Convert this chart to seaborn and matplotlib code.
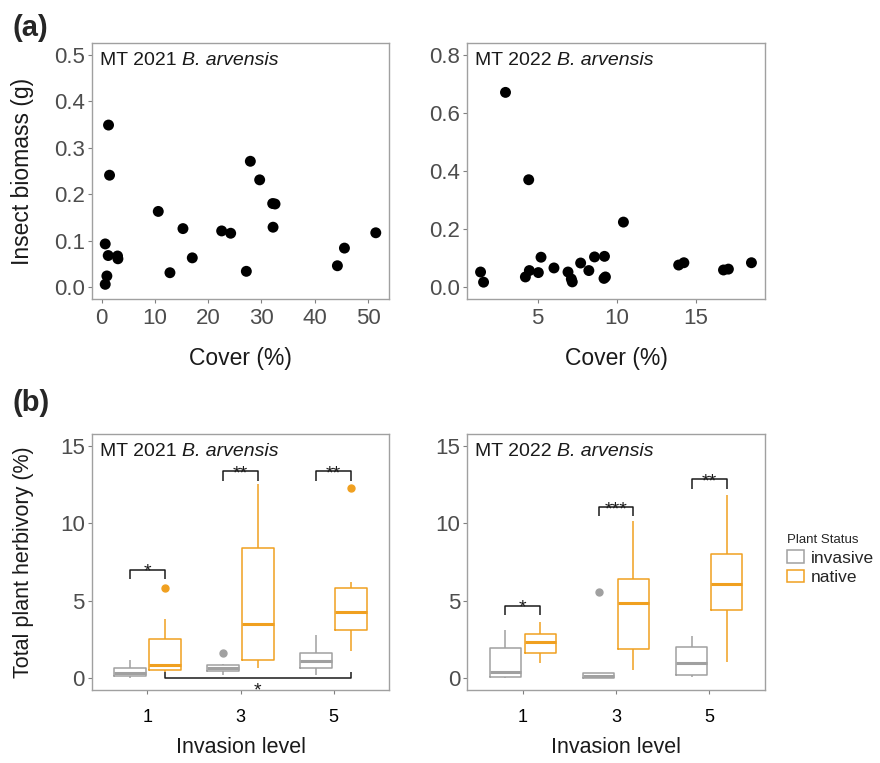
import pandas as pd
import seaborn as sns
import matplotlib.pyplot as plt

# ---- (a) insect biomass vs cover ----
cover_2021 = [1.31, 1.50, 0.69, 1.25, 3.00, 3.07, 1.00, 0.69, 10.64, 12.83, 15.27, 17.02,
              22.53, 24.22, 27.16, 27.91, 29.66, 32.10, 32.54, 32.17, 44.24, 45.56, 51.44]
biomass_2021 = [0.349, 0.241, 0.093, 0.068, 0.067, 0.061, 0.024, 0.006, 0.163, 0.031, 0.126, 0.063,
                0.121, 0.116, 0.034, 0.271, 0.231, 0.180, 0.179, 0.129, 0.046, 0.084, 0.117]

cover_2022 = [2.96, 4.43, 10.43, 1.38, 1.57, 4.22, 4.47, 5.04, 5.21, 6.03, 6.92, 7.13, 7.19,
              7.72, 8.24, 8.60, 9.23, 9.29, 9.20, 13.93, 14.26, 16.77, 17.08, 18.54]
biomass_2022 = [0.671, 0.370, 0.224, 0.052, 0.017, 0.035, 0.057, 0.050, 0.103, 0.066, 0.052, 0.028, 0.018,
                0.083, 0.057, 0.104, 0.106, 0.035, 0.030, 0.076, 0.084, 0.059, 0.062, 0.084]

# ---- (b) herbivory by invasion level ----
levels = ['1', '3', '5']
statuses = ['invasive', 'native']

h21_1_inv = [0.04, 0.10, 0.15, 0.25, 0.36, 0.50, 0.69, 0.90, 1.18]
h21_1_nat = [0.40, 0.50, 0.56, 0.70, 0.86, 1.60, 2.55, 3.85, 5.80]
h21_3_inv = [0.24, 0.35, 0.47, 0.60, 0.69, 0.78, 0.84, 0.95, 1.65]
h21_3_nat = [0.69, 0.90, 1.16, 2.50, 3.51, 6.00, 8.39, 10.50, 12.53]
h21_5_inv = [0.19, 0.45, 0.69, 0.90, 1.11, 1.40, 1.65, 2.20, 2.81]
h21_5_nat = [1.76, 2.50, 3.10, 3.80, 4.30, 5.20, 5.85, 6.23, 12.27]

h22_1_inv = [0.00, 0.05, 0.09, 0.20, 0.41, 1.20, 1.99, 2.60, 3.15]
h22_1_nat = [0.96, 1.30, 1.61, 2.00, 2.33, 2.60, 2.89, 3.30, 3.64]
h22_3_inv = [0.00, 0.00, 0.00, 0.08, 0.15, 0.25, 0.36, 0.36, 5.55]
h22_3_nat = [0.51, 1.20, 1.91, 3.50, 4.84, 5.60, 6.42, 8.50, 10.17]
h22_5_inv = [0.10, 0.15, 0.21, 0.60, 0.96, 1.50, 2.03, 2.40, 2.76]
h22_5_nat = [1.03, 3.00, 4.39, 5.30, 6.10, 7.00, 8.05, 10.00, 11.84]

sig21_labels = ['*', '**', '**']
sig21_y = [7.0, 13.35, 13.35]
sig22_labels = ['*', '***', '**']
sig22_y = [4.67, 11.05, 12.85]
sig21_across = '*'

pal = {'invasive': '#A0A0A0', 'native': '#F0A020'}


def herb_frame(groups):
    rows = []
    for (lev, st), vals in groups.items():
        for v in vals:
            rows.append({'level': lev, 'status': st, 'herb': v})
    return pd.DataFrame(rows)


df21 = herb_frame({('1', 'invasive'): h21_1_inv, ('1', 'native'): h21_1_nat,
                   ('3', 'invasive'): h21_3_inv, ('3', 'native'): h21_3_nat,
                   ('5', 'invasive'): h21_5_inv, ('5', 'native'): h21_5_nat})
df22 = herb_frame({('1', 'invasive'): h22_1_inv, ('1', 'native'): h22_1_nat,
                   ('3', 'invasive'): h22_3_inv, ('3', 'native'): h22_3_nat,
                   ('5', 'invasive'): h22_5_inv, ('5', 'native'): h22_5_nat})

sns.set_theme(style='white')
plt.rcParams['font.family'] = ['Liberation Sans', 'DejaVu Sans']

fig = plt.figure(figsize=(8.8, 7.63), dpi=100)
ax_tl = fig.add_axes([0.1042, 0.6085, 0.3382, 0.3347])
ax_tr = fig.add_axes([0.5307, 0.6085, 0.3386, 0.3347])
ax_bl = fig.add_axes([0.1042, 0.0957, 0.3382, 0.3351])
ax_br = fig.add_axes([0.5307, 0.0957, 0.3386, 0.3351])


def style_axis(ax, yr, xcolor):
    for sp in ax.spines.values():
        sp.set_color('#A0A0A0')
        sp.set_linewidth(1.0)
    ax.tick_params(axis='both', which='both', bottom=True, left=True, length=3,
                   width=0.8, color='#808080')
    ax.tick_params(axis='y', labelsize=16, labelcolor='#4D4D4D', pad=2)
    ax.tick_params(axis='x', labelcolor=xcolor)
    t1 = ax.text(0.028, 0.967, 'MT %s' % yr, transform=ax.transAxes,
                 ha='left', va='top', fontsize=14, color='#1A1A1A')
    ax.annotate('B. arvensis', xy=(1, 0), xycoords=t1, xytext=(3.9, 0),
                textcoords='offset points', ha='left', va='bottom',
                fontsize=14, fontstyle='italic', color='#1A1A1A')


# top scatter panels
sns.scatterplot(x=cover_2021, y=biomass_2021, ax=ax_tl, color='black', s=62, edgecolor='none')
sns.scatterplot(x=cover_2022, y=biomass_2022, ax=ax_tr, color='black', s=62, edgecolor='none')

ax_tl.set_ylim(-0.025, 0.525)
ax_tl.set_yticks([0.0, 0.1, 0.2, 0.3, 0.4, 0.5])
ax_tl.set_xticks([0, 10, 20, 30, 40, 50])
ax_tr.set_ylim(-0.04, 0.84)
ax_tr.set_yticks([0.0, 0.2, 0.4, 0.6, 0.8])
ax_tr.set_xticks([5, 10, 15])
for ax, yr in [(ax_tl, '2021'), (ax_tr, '2022')]:
    style_axis(ax, yr, '#4D4D4D')
    ax.tick_params(axis='x', labelsize=16, pad=4)
    ax.set_xlabel('Cover (%)', fontsize=16.5, color='#1A1A1A')
    ax.xaxis.set_label_coords(0.5, -0.19)
    ax.yaxis.set_major_formatter(plt.FormatStrFormatter('%.1f'))
ax_tl.set_ylabel('Insect biomass (g)', fontsize=16.5, color='#1A1A1A')
ax_tl.yaxis.set_label_coords(-0.195, 0.5)

# bottom box panels
box_kw = dict(x='level', y='herb', hue='status', order=levels, hue_order=statuses,
              palette=pal, fill=False, width=0.75, gap=0.1, linewidth=1.1,
              showcaps=False, whis=1.5,
              flierprops=dict(marker='o', markersize=5),
              medianprops=dict(linewidth=2.2))
sns.boxplot(data=df21, ax=ax_bl, legend=False, **box_kw)
sns.boxplot(data=df22, ax=ax_br, **box_kw)

for ax in [ax_bl, ax_br]:
    for cont, st in zip(ax.containers, statuses):
        for fl in getattr(cont, 'fliers', []):
            fl.set_markerfacecolor(pal[st])
            fl.set_markeredgecolor(pal[st])

dodge = 0.1875
tip = 0.6


def bracket(ax, x1, x2, y, label, down=True):
    t = y - tip if down else y + 0.4
    ax.plot([x1, x1, x2, x2], [t, y, y, t], color='#1A1A1A', lw=1.1, solid_capstyle='butt')
    off = -5 if down else -12
    ax.annotate(label, xy=((x1 + x2) / 2, y), xytext=(0, off), textcoords='offset points',
                ha='center', va='baseline', fontsize=14, color='#1A1A1A')


for i, (lab, y) in enumerate(zip(sig21_labels, sig21_y)):
    bracket(ax_bl, i - dodge, i + dodge, y, lab)
bracket(ax_bl, 0 + dodge, 2 + dodge, 0.0, sig21_across, down=False)
for i, (lab, y) in enumerate(zip(sig22_labels, sig22_y)):
    bracket(ax_br, i - dodge, i + dodge, y, lab)

for ax, yr in [(ax_bl, '2021'), (ax_br, '2022')]:
    ax.set_ylim(-0.75, 15.75)
    ax.set_yticks([0, 5, 10, 15])
    ax.set_xlim(-0.6, 2.6)
    style_axis(ax, yr, 'black')
    ax.tick_params(axis='x', labelsize=13, pad=11)
    ax.set_xlabel('Invasion level', fontsize=15.5, color='#1A1A1A')
    ax.xaxis.set_label_coords(0.5, -0.185)
    ax.set_ylabel('')
ax_bl.set_ylabel('Total plant herbivory (%)', fontsize=15.5, color='#1A1A1A')
ax_bl.yaxis.set_label_coords(-0.195, 0.5)

sns.move_legend(ax_br, loc='center left', bbox_to_anchor=(1.02, 0.51), frameon=False,
                title='Plant Status', fontsize=12.5, title_fontsize=9.5,
                handlelength=1.0, handleheight=0.7, handletextpad=0.4, labelspacing=0.25)
leg = ax_br.get_legend()
leg._legend_box.align = 'left'

fig.text(0.014, 0.982, '(a)', fontsize=21, fontweight='bold', ha='left', va='top')
fig.text(0.014, 0.490, '(b)', fontsize=21, fontweight='bold', ha='left', va='top')

fig.savefig('out.png', dpi=100, facecolor='white')
